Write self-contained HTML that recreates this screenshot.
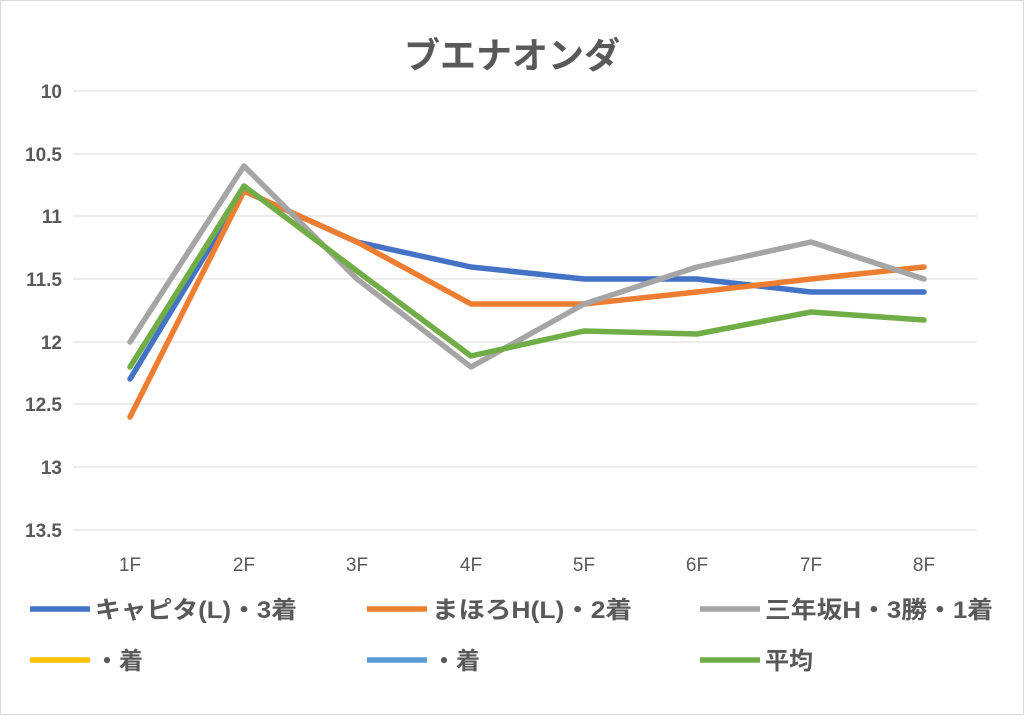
<!DOCTYPE html>
<html><head><meta charset="utf-8"><style>
body{margin:0;background:#fff}
svg text{font-family:"Liberation Sans","Noto Sans CJK JP",sans-serif}
</style></head><body>
<svg width="1024" height="715" xmlns="http://www.w3.org/2000/svg">
<rect x="0.5" y="0.5" width="1023" height="714" fill="#fff" stroke="#d9d9d9"/>
<text x="512" y="68" text-anchor="middle" font-size="36" font-weight="bold" fill="#595959">ブエナオンダ</text>
<g stroke="#d9d9d9" stroke-width="1">
<line x1="73" x2="977" y1="91" y2="91"/><line x1="73" x2="977" y1="154" y2="154"/>
<line x1="73" x2="977" y1="216" y2="216"/><line x1="73" x2="977" y1="279" y2="279"/>
<line x1="73" x2="977" y1="342" y2="342"/><line x1="73" x2="977" y1="404" y2="404"/>
<line x1="73" x2="977" y1="467" y2="467"/><line x1="73" x2="977" y1="530" y2="530"/>
</g>
<g font-size="19" font-weight="bold" fill="#595959" text-anchor="end">
<text x="62" y="98">10</text><text x="62" y="161">10.5</text><text x="62" y="223">11</text>
<text x="62" y="286">11.5</text><text x="62" y="349">12</text><text x="62" y="411">12.5</text>
<text x="62" y="474">13</text><text x="62" y="537">13.5</text>
</g>
<g font-size="19" fill="#595959" text-anchor="middle">
<text x="130" y="571">1F</text><text x="244" y="571">2F</text><text x="357" y="571">3F</text>
<text x="471" y="571">4F</text><text x="584" y="571">5F</text><text x="697" y="571">6F</text>
<text x="811" y="571">7F</text><text x="924" y="571">8F</text>
</g>
<g fill="none" stroke-width="5.5" stroke-linejoin="round" stroke-linecap="round">
<polyline stroke="#4472c4" points="130,379 244,191 357,242 471,267 584,279 697,279 811,292 924,292"/>
<polyline stroke="#ed7d31" points="130,417 244,191 357,242 471,304 584,304 697,292 811,279 924,267"/>
<polyline stroke="#a5a5a5" points="130,342 244,166 357,279 471,367 584,304 697,267 811,242 924,279"/>
<polyline stroke="#70ad47" points="130,367 244,186 357,271 471,356 584,331 697,334 811,312 924,320"/>
</g>
<g stroke-width="5.5">
<line x1="30" x2="90" y1="609" y2="609" stroke="#4472c4"/>
<line x1="367" x2="427" y1="609" y2="609" stroke="#ed7d31"/>
<line x1="700" x2="760" y1="609" y2="609" stroke="#a5a5a5"/>
<line x1="30" x2="90" y1="660" y2="660" stroke="#ffc000"/>
<line x1="367" x2="427" y1="660" y2="660" stroke="#5b9bd5"/>
<line x1="700" x2="760" y1="660" y2="660" stroke="#70ad47"/>
</g>
<g font-size="24" font-weight="bold" fill="#595959">
<text x="95" y="618" textLength="202" lengthAdjust="spacingAndGlyphs">キャピタ(L)・3着</text>
<text x="432" y="618" textLength="200" lengthAdjust="spacingAndGlyphs">まほろH(L)・2着</text>
<text x="765" y="618" textLength="228" lengthAdjust="spacingAndGlyphs">三年坂H・3勝・1着</text>
<text x="95" y="669">・着</text>
<text x="432" y="669">・着</text>
<text x="765" y="669">平均</text>
</g>
</svg>
</body></html>
